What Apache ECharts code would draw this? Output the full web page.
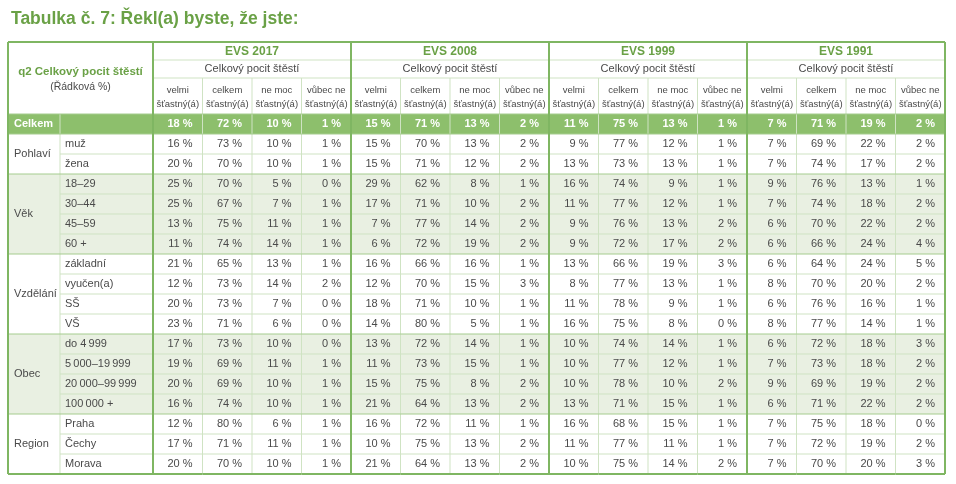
<!DOCTYPE html>
<html lang="cs">
<head>
<meta charset="UTF-8">
<title>Tabulka č. 7</title>
<style>
  * { margin: 0; padding: 0; }
  body { background: #fff; overflow: hidden; }
  #chart { width: 956px; height: 484px; }
</style>
</head>
<body>
<div id="chart"></div>
<script src="https://cdn.jsdelivr.net/npm/echarts@6/dist/echarts.min.js"></script>
<script>
  // --- data ---
  const years = ['EVS 2017', 'EVS 2008', 'EVS 1999', 'EVS 1991'];
  const answers = ['velmi\nšťastný(á)', 'celkem\nšťastný(á)', 'ne moc\nšťastný(á)', 'vůbec ne\nšťastný(á)'];
  const rowGroups = ['Celkem', 'Pohlaví', 'Pohlaví', 'Věk', 'Věk', 'Věk', 'Věk',
    'Vzdělání', 'Vzdělání', 'Vzdělání', 'Vzdělání', 'Obec', 'Obec', 'Obec', 'Obec',
    'Region', 'Region', 'Region'];
  const rowLabels = ['', 'muž', 'žena', '18–29', '30–44', '45–59', '60 +',
    'základní', 'vyučen(a)', 'SŠ', 'VŠ', 'do 4\u2009999', '5\u2009000–19\u2009999',
    '20\u2009000–99\u2009999', '100\u2009000 +', 'Praha', 'Čechy', 'Morava'];

  const evs2017 = [[18, 72, 10, 1], [16, 73, 10, 1], [20, 70, 10, 1], [25, 70, 5, 0], [25, 67, 7, 1],
    [13, 75, 11, 1], [11, 74, 14, 1], [21, 65, 13, 1], [12, 73, 14, 2], [20, 73, 7, 0], [23, 71, 6, 0],
    [17, 73, 10, 0], [19, 69, 11, 1], [20, 69, 10, 1], [16, 74, 10, 1], [12, 80, 6, 1], [17, 71, 11, 1],
    [20, 70, 10, 1]];
  const evs2008 = [[15, 71, 13, 2], [15, 70, 13, 2], [15, 71, 12, 2], [29, 62, 8, 1], [17, 71, 10, 2],
    [7, 77, 14, 2], [6, 72, 19, 2], [16, 66, 16, 1], [12, 70, 15, 3], [18, 71, 10, 1], [14, 80, 5, 1],
    [13, 72, 14, 1], [11, 73, 15, 1], [15, 75, 8, 2], [21, 64, 13, 2], [16, 72, 11, 1], [10, 75, 13, 2],
    [21, 64, 13, 2]];
  const evs1999 = [[11, 75, 13, 1], [9, 77, 12, 1], [13, 73, 13, 1], [16, 74, 9, 1], [11, 77, 12, 1],
    [9, 76, 13, 2], [9, 72, 17, 2], [13, 66, 19, 3], [8, 77, 13, 1], [11, 78, 9, 1], [16, 75, 8, 0],
    [10, 74, 14, 1], [10, 77, 12, 1], [10, 78, 10, 2], [13, 71, 15, 1], [16, 68, 15, 1], [11, 77, 11, 1],
    [10, 75, 14, 2]];
  const evs1991 = [[7, 71, 19, 2], [7, 69, 22, 2], [7, 74, 17, 2], [9, 76, 13, 1], [7, 74, 18, 2],
    [6, 70, 22, 2], [6, 66, 24, 4], [6, 64, 24, 5], [8, 70, 20, 2], [6, 76, 16, 1], [8, 77, 14, 1],
    [6, 72, 18, 3], [7, 73, 18, 2], [9, 69, 19, 2], [6, 71, 22, 2], [7, 75, 18, 0], [7, 72, 19, 2],
    [7, 70, 20, 3]];
  const yearValues = [evs2017, evs2008, evs1999, evs1991];

  // --- styles ---
  const GREEN = '#6aa146';
  const THICK = '#7fb662';
  const MID = '#a5cc8e';
  const LIGHT = '#cfe3c3';
  const TOTAL_FILL = '#8dbf6c';
  const SHADE_FILL = '#e9f0e2';
  const TEXT = '#4a4a4a';
  const FONT = '"Liberation Sans", Arial, sans-serif';
  const STUB_W = 145;
  const GROUP_W = 52;

  const groupNames = rowGroups.filter((g, i) => rowGroups.indexOf(g) === i);
  const lastRow = rowGroups.length - 1;

  function rowFill(row) {
    if (row === 0) return TOTAL_FILL;
    return groupNames.indexOf(rowGroups[row]) % 2 === 0 ? SHADE_FILL : '#fff';
  }
  function isGroupEnd(row) {
    return row === lastRow || rowGroups[row + 1] !== rowGroups[row];
  }
  function bottomColor(row) {
    return row === lastRow ? THICK : (isGroupEnd(row) ? MID : LIGHT);
  }
  function seg(x1, y1, x2, y2, color, width) {
    return {
      type: 'line', shape: { x1, y1, x2, y2 },
      style: { stroke: color, lineWidth: width || 1 },
      z2: color === THICK ? 4 : (color === MID ? 3 : 2)
    };
  }
  function label(text, x, y, align, fill, font, lineHeight) {
    return {
      type: 'text', z2: 5,
      style: {
        text, x, y, textAlign: align, textVerticalAlign: 'middle',
        fill, font, lineHeight: lineHeight || 13
      }
    };
  }

  const colCats = [];
  years.forEach(y => answers.forEach(a => colCats.push(y + ' ' + a)));
  const rowCats = rowLabels.map((l, i) => String(i));

  const cells = [];
  rowLabels.forEach((l, r) => {
    yearValues.forEach((vals, k) => {
      vals[r].forEach((v, a) => cells.push([k * 4 + a, r, v]));
    });
  });

  // --- renderers ---
  function renderCell(params, api) {
    const col = api.value(0), row = api.value(1), v = api.value(2);
    const c = api.coord([col, row]);
    const s = api.size([1, 1]);
    const x = c[0] - s[0] / 2, y = c[1] - s[1] / 2;
    const total = row === 0;
    const children = [
      { type: 'rect', z2: 0, shape: { x, y, width: s[0], height: s[1] }, style: { fill: rowFill(row) } },
      label(v + ' %', x + s[0] - 10, c[1], 'right', total ? '#fff' : TEXT,
        (total ? 'bold ' : '') + '11px ' + FONT),
      seg(x + s[0], y, x + s[0], y + s[1], col % 4 === 3 ? THICK : LIGHT, col % 4 === 3 ? 2 : 1),
      seg(x, y + s[1], x + s[0], y + s[1], bottomColor(row), row === lastRow ? 2 : 1)
    ];
    if (col === 0) children.push(seg(x, y, x, y + s[1], THICK, 2));
    return { type: 'group', children };
  }

  function renderStub(params, api) {
    const row = api.value(1);
    const c = api.coord([0, row]);
    const h = api.size([1, 1])[1];
    const y = c[1] - h / 2;
    const x0 = params.coordSys.x - STUB_W;
    const x1 = x0 + GROUP_W;
    const x2 = params.coordSys.x;
    const total = row === 0;
    const children = [
      { type: 'rect', z2: 0, shape: { x: x1, y, width: x2 - x1, height: h }, style: { fill: rowFill(row) } },
      label(rowLabels[row], x1 + 5, c[1], 'left', TEXT, '11px ' + FONT),
      seg(x1, y, x1, y + h, LIGHT, 1),
      seg(x1, y + h, x2, y + h, bottomColor(row), row === lastRow ? 2 : 1)
    ];
    const g = rowGroups[row];
    if (rowGroups.indexOf(g) === row) {
      const n = rowGroups.filter(r => r === g).length;
      children.push(
        { type: 'rect', z2: 0, shape: { x: x0, y, width: GROUP_W, height: n * h }, style: { fill: rowFill(row) } },
        label(g, x0 + 6, y + n * h / 2, 'left', total ? '#fff' : TEXT, (total ? 'bold ' : '') + '11px ' + FONT),
        seg(x0, y, x0, y + n * h, THICK, 2),
        seg(x0, y + n * h, x1, y + n * h, row + n - 1 === lastRow ? THICK : MID, row + n - 1 === lastRow ? 2 : 1)
      );
    }
    return { type: 'group', children };
  }

  function renderYear(params, api) {
    const col = api.value(0);
    const c0 = api.coord([col, 0]);
    const c1 = api.coord([col, 1]);
    const s = api.size([1, 1]);
    const x = c0[0] - s[0] / 2, w = s[0] * 4;
    const y = c0[1] - s[1] / 2;
    return {
      type: 'group', children: [
        label(years[params.dataIndex], x + w / 2, c0[1] + 1, 'center', GREEN, 'bold 12px ' + FONT),
        label('Celkový pocit štěstí', x + w / 2, c1[1], 'center', TEXT, '11px ' + FONT),
        seg(x, y, x + w, y, THICK, 2),
        seg(x, y + s[1], x + w, y + s[1], LIGHT, 1),
        seg(x, y + 2 * s[1], x + w, y + 2 * s[1], LIGHT, 1),
        seg(x + w, y, x + w, y + 2 * s[1], THICK, 2)
      ]
    };
  }

  function renderAnswer(params, api) {
    const col = api.value(0);
    const c = api.coord([col, 2]);
    const s = api.size([1, 1]);
    const x = c[0] - s[0] / 2, y = c[1] - s[1] / 2;
    const right = col % 4 === 3;
    return {
      type: 'group', children: [
        label(answers[col % 4], c[0], y + s[1] + 1, 'center', TEXT, '9.5px ' + FONT, 14),
        seg(x + s[0], y, x + s[0], y + 2 * s[1], right ? THICK : LIGHT, right ? 2 : 1),
        seg(x, y + 2 * s[1], x + s[0], y + 2 * s[1], MID, 1)
      ]
    };
  }

  function renderCorner(params, api) {
    const c = api.coord([0, 0]);
    const s = api.size([1, 1]);
    const x1 = c[0] - s[0] / 2, y0 = c[1] - s[1] / 2;
    const x0 = x1 - STUB_W, y1 = y0 + 4 * s[1];
    const cx = x0 + STUB_W / 2, cy = y0 + 2 * s[1];
    return {
      type: 'group', children: [
        label('q2 Celkový pocit štěstí', cx, cy - 6, 'center', GREEN, 'bold 11.5px ' + FONT),
        label('(Řádková %)', cx, cy + 9, 'center', TEXT, '10.5px ' + FONT),
        seg(x0, y0, x1, y0, THICK, 2),
        seg(x0, y0, x0, y1, THICK, 2),
        seg(x1, y0, x1, y1, THICK, 2),
        seg(x0, y1, x1, y1, MID, 1)
      ]
    };
  }

  const chart = echarts.init(document.getElementById('chart'));
  chart.setOption({
    animation: false,
    backgroundColor: '#fff',
    title: {
      text: 'Tabulka č. 7: Řekl(a) byste, že jste:',
      left: 6, top: 5,
      textStyle: { color: GREEN, fontSize: 17.5, fontWeight: 'bold', fontFamily: FONT }
    },
    grid: [
      { left: 153, right: 11, top: 42, height: 72 },
      { left: 153, right: 11, top: 114, bottom: 10 }
    ],
    xAxis: [
      { type: 'category', gridIndex: 0, data: colCats, show: false },
      { type: 'category', gridIndex: 1, data: colCats, show: false }
    ],
    yAxis: [
      { type: 'category', gridIndex: 0, data: ['rok', 'otazka', 'odpoved', 'odpoved2'], inverse: true, show: false },
      { type: 'category', gridIndex: 1, data: rowCats, inverse: true, show: false }
    ],
    series: [
      {
        type: 'custom', xAxisIndex: 0, yAxisIndex: 0, clip: false, silent: true,
        renderItem: renderYear, data: years.map((y, k) => [k * 4, 0])
      },
      {
        type: 'custom', xAxisIndex: 0, yAxisIndex: 0, clip: false, silent: true,
        renderItem: renderAnswer, data: colCats.map((c, i) => [i, 2])
      },
      {
        type: 'custom', xAxisIndex: 0, yAxisIndex: 0, clip: false, silent: true,
        renderItem: renderCorner, data: [[0, 0]]
      },
      {
        type: 'custom', xAxisIndex: 1, yAxisIndex: 1, clip: false, silent: true,
        renderItem: renderStub, data: rowLabels.map((l, r) => [0, r])
      },
      {
        type: 'custom', xAxisIndex: 1, yAxisIndex: 1, clip: false, silent: true,
        renderItem: renderCell, data: cells
      }
    ]
  });
</script>
</body>
</html>
